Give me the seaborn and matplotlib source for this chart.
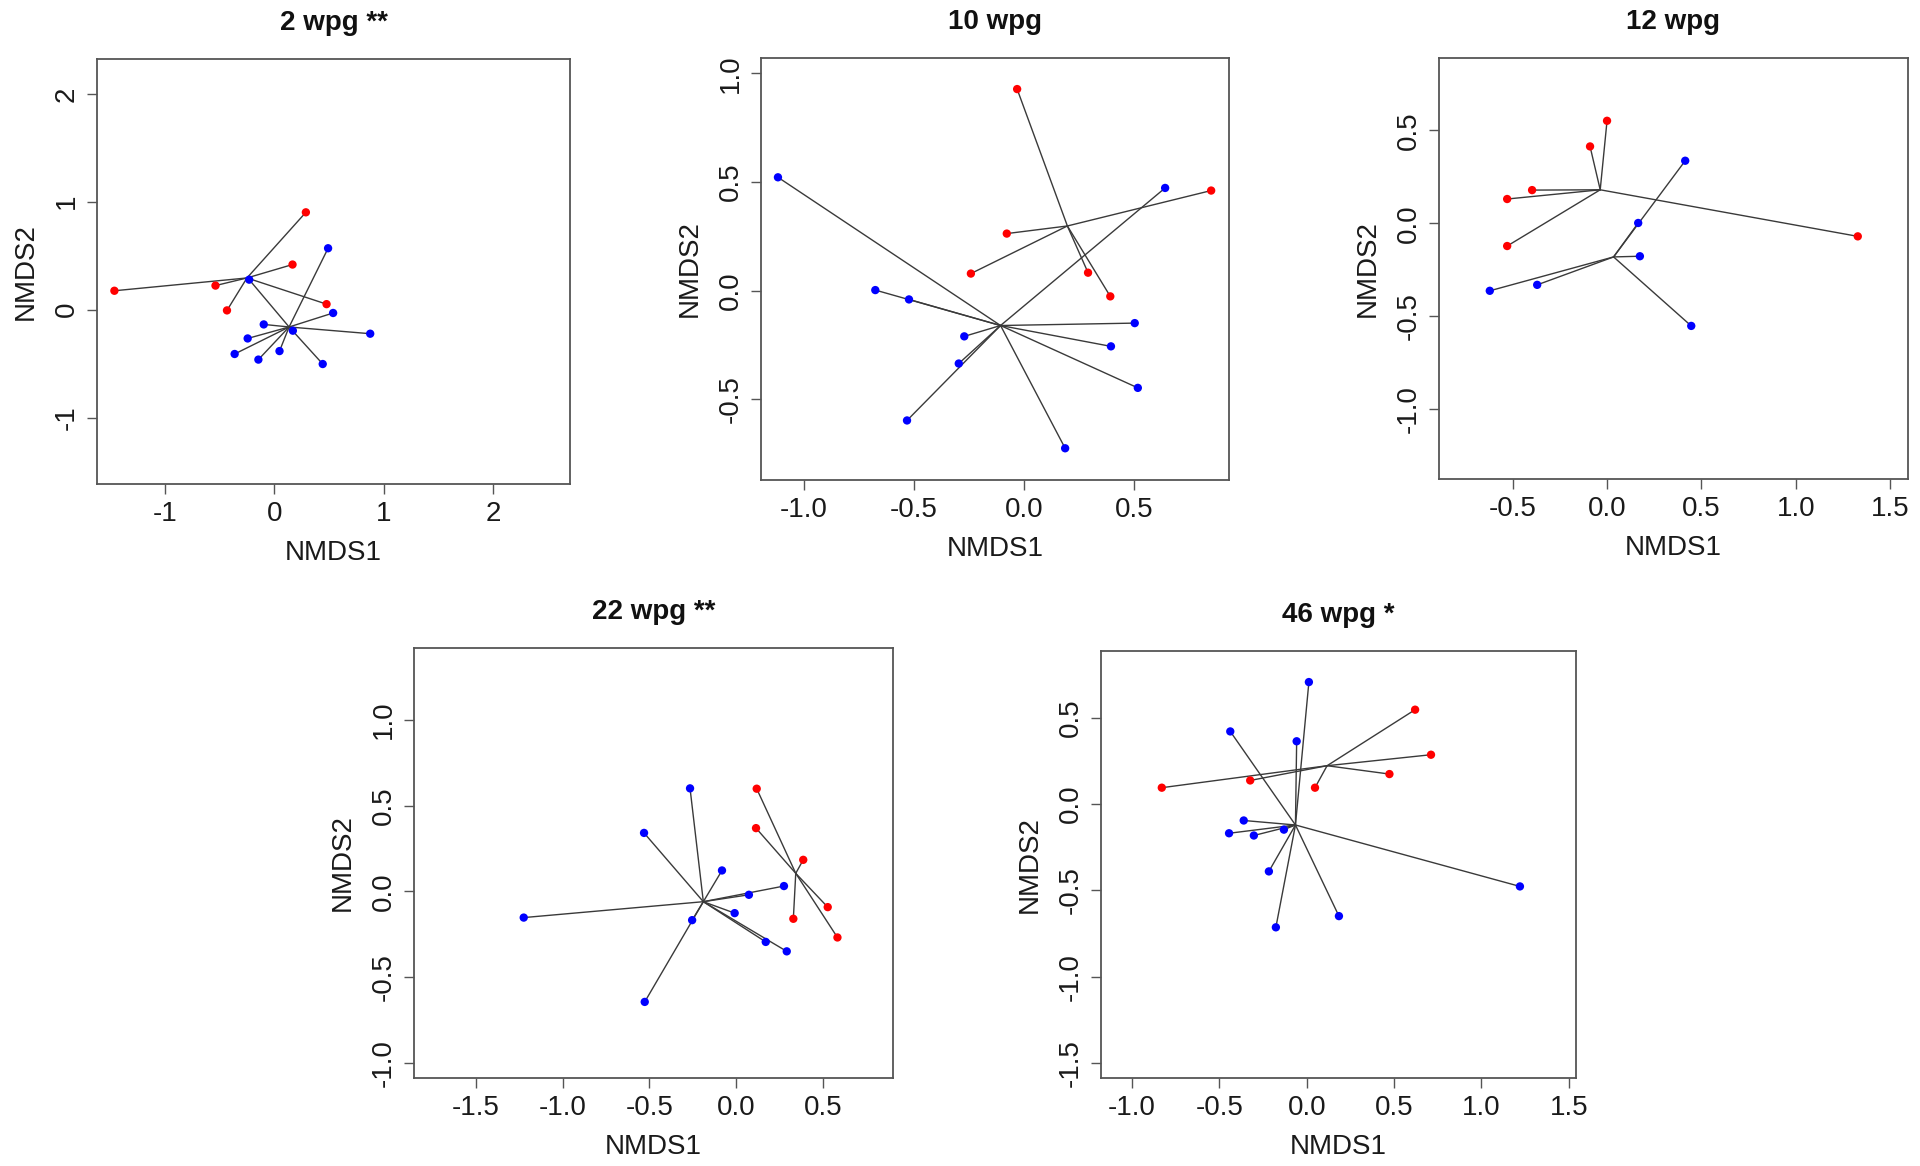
import matplotlib
matplotlib.use("Agg")
import matplotlib.pyplot as plt
import numpy as np
import pandas as pd
import seaborn as sns

# NMDS scores (red = group 1, blue = group 2)
titles = ["2 wpg **", "10 wpg", "12 wpg", "22 wpg **", "46 wpg *"]

w2_red_x = [-1.463, -0.539, -0.434, 0.287, 0.165, 0.476]
w2_red_y = [0.175, 0.223, -0.007, 0.902, 0.418, 0.051]
w2_blue_x = [-0.231, 0.490, 0.536, 0.875, 0.168, -0.098, -0.245, -0.364, -0.147, 0.046, 0.441]
w2_blue_y = [0.278, 0.569, -0.031, -0.223, -0.195, -0.137, -0.267, -0.411, -0.463, -0.384, -0.504]

w10_red_x = [-0.032, -0.079, -0.242, 0.290, 0.391, 0.849]
w10_red_y = [0.927, 0.262, 0.078, 0.082, -0.027, 0.460]
w10_blue_x = [-1.118, -0.676, -0.523, -0.272, -0.297, -0.532, 0.186, 0.502, 0.394, 0.516, 0.640]
w10_blue_y = [0.521, 0.002, -0.041, -0.211, -0.336, -0.598, -0.726, -0.150, -0.257, -0.448, 0.472]

w12_red_x = [0.000, -0.090, -0.397, -0.529, -0.529, 1.328]
w12_red_y = [0.552, 0.414, 0.179, 0.131, -0.122, -0.070]
w12_blue_x = [0.414, 0.165, 0.174, -0.370, -0.621, 0.446]
w12_blue_y = [0.337, 0.002, -0.177, -0.331, -0.363, -0.552]

w22_red_x = [0.118, 0.114, 0.386, 0.527, 0.329, 0.583]
w22_red_y = [0.599, 0.369, 0.184, -0.092, -0.160, -0.269]
w22_blue_x = [-0.266, -0.531, -0.082, 0.275, 0.073, -0.009, -0.254, -1.224, 0.170, 0.291, -0.527]
w22_blue_y = [0.601, 0.341, 0.122, 0.031, -0.020, -0.127, -0.168, -0.153, -0.295, -0.350, -0.645]

w46_red_x = [-0.830, -0.324, 0.047, 0.473, 0.620, 0.711]
w46_red_y = [0.095, 0.137, 0.095, 0.174, 0.547, 0.286]
w46_blue_x = [0.012, -0.438, -0.058, -0.361, -0.445, -0.303, -0.131, -0.217, -0.177, 0.184, 1.220]
w46_blue_y = [0.707, 0.421, 0.364, -0.095, -0.169, -0.182, -0.148, -0.390, -0.714, -0.649, -0.477]

xticks = [[-1, 0, 1, 2], [-1.0, -0.5, 0.0, 0.5], [-0.5, 0.0, 0.5, 1.0, 1.5],
          [-1.5, -1.0, -0.5, 0.0, 0.5], [-1.0, -0.5, 0.0, 0.5, 1.0, 1.5]]
yticks = [[-1, 0, 1, 2], [-0.5, 0.0, 0.5, 1.0], [-1.0, -0.5, 0.0, 0.5],
          [-1.0, -0.5, 0.0, 0.5, 1.0], [-1.5, -1.0, -0.5, 0.0, 0.5]]

panels = [
    (w2_red_x, w2_red_y, w2_blue_x, w2_blue_y),
    (w10_red_x, w10_red_y, w10_blue_x, w10_blue_y),
    (w12_red_x, w12_red_y, w12_blue_x, w12_blue_y),
    (w22_red_x, w22_red_y, w22_blue_x, w22_blue_y),
    (w46_red_x, w46_red_y, w46_blue_x, w46_blue_y),
]

# layout (pixel boxes: left, top, right, bottom) and axis ranges
W, H = 1920, 1166
boxes = [(97, 59, 570, 484), (761, 58, 1229, 480), (1439, 58, 1908, 479),
         (414, 648, 893, 1078), (1101, 651, 1576, 1078)]
xlims = [(-1.622, 2.701), (-1.195, 0.930), (-0.890, 1.594), (-1.856, 0.903), (-1.178, 1.541)]
ylims = [(-1.616, 2.323), (-0.872, 1.070), (-1.376, 0.890), (-1.089, 1.420), (-1.587, 0.887)]

sns.set_style("white")
plt.rcParams["font.family"] = ["Liberation Sans", "DejaVu Sans"]
plt.rcParams["axes.unicode_minus"] = False

fig = plt.figure(figsize=(W / 100, H / 100), dpi=100)
palette = {"red": "#ff0000", "blue": "#0000ff"}
frame_col = "#555555"

for i, (rx, ry, bx, by) in enumerate(panels):
    l, t, r, b = boxes[i]
    ax = fig.add_axes([l / W, 1 - b / H, (r - l) / W, (b - t) / H])

    df = pd.DataFrame({
        "NMDS1": rx + bx,
        "NMDS2": ry + by,
        "group": ["red"] * len(rx) + ["blue"] * len(bx),
    })

    # spider lines from each group centroid
    for g, sub in df.groupby("group"):
        cx, cy = sub["NMDS1"].mean(), sub["NMDS2"].mean()
        for px, py in zip(sub["NMDS1"], sub["NMDS2"]):
            ax.plot([cx, px], [cy, py], color="#3a3a3a", lw=1.0, zorder=2)

    sns.scatterplot(data=df, x="NMDS1", y="NMDS2", hue="group", palette=palette,
                    s=36, edgecolor="none", legend=False, ax=ax, zorder=3)

    ax.set_xlim(*xlims[i])
    ax.set_ylim(*ylims[i])
    fmt = "{:.0f}" if i == 0 else "{:.1f}"
    ax.set_xticks(xticks[i])
    ax.set_xticklabels([fmt.format(v) for v in xticks[i]])
    ax.set_yticks(yticks[i])
    ax.set_yticklabels([fmt.format(v) for v in yticks[i]])

    for s in ax.spines.values():
        s.set_visible(True)
        s.set_color(frame_col)
        s.set_linewidth(1.3)
    ax.tick_params(axis="both", which="major", direction="out", length=7.2, width=1.0,
                   color=frame_col, labelsize=20, labelcolor="#1a1a1a",
                   bottom=True, left=True)
    ax.tick_params(axis="x", pad=4.8)
    ax.tick_params(axis="y", pad=5.3, labelrotation=90)
    for lab in ax.get_yticklabels():
        lab.set_va("center")

    ax.set_xlabel("NMDS1", fontsize=20, color="#1a1a1a")
    ax.set_ylabel("NMDS2", fontsize=20, color="#1a1a1a")
    ax.xaxis.set_label_coords(0.5, -56 / (b - t))
    ax.yaxis.set_label_coords(-58 / (r - l), 0.5)
    ax.set_title(titles[i], fontsize=20, fontweight="bold", pad=20.6, color="#111111")

fig.savefig("out.png", dpi=100)
